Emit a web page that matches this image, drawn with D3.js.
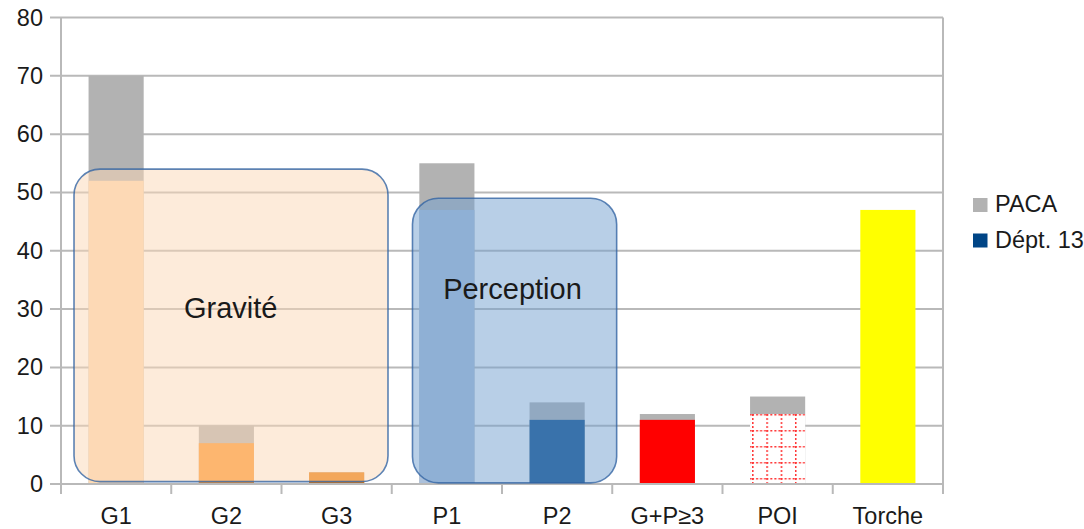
<!DOCTYPE html>
<html>
<head>
<meta charset="utf-8">
<script src="https://cdn.jsdelivr.net/npm/d3@7"></script>
<style>
  html, body { margin: 0; padding: 0; background: #fff; overflow: hidden; }
  svg { display: block; font-family: "Liberation Sans", Arial, sans-serif; }
</style>
</head>
<body>
<svg id="chart" width="1084" height="529"></svg>
<script>
// Categories and values of the two series
const categories = ["G1", "G2", "G3", "P1", "P2", "G+P≥3", "POI", "Torche"];
const pacaValues = [70, 10, 2, 55, 14, 12, 15, null];
const dept13Values = [52, 7, 2, 47, 11, 11, 12, 47];
const yTickValues = [0, 10, 20, 30, 40, 50, 60, 70, 80];
const seriesNames = ["PACA", "Dépt. 13"];

// Annotation groups (first/last category, label)
const groupLabels = ["Gravité", "Perception"];
const groupFirst = ["G1", "P1"];
const groupLast = ["G3", "P2"];

// Styling
const pacaColor = "#b2b2b2";
const deptColor = "#004586";
const deptBarFills = ["#fedbb4", "#ff9528", "#ea7700", "#acc1db", "#004586", "#ff0000", "url(#poiGrid)", "#ffff00"];
const gridColor = "#b9b9b9";
const textColor = "#1a1a1a";
const labelSize = 23.5;

const svg = d3.select("#chart");
const plot = { left: 61, right: 943, top: 17.5, bottom: 484 };

const x = d3.scaleBand()
  .domain(categories)
  .range([plot.left, plot.right])
  .paddingInner(0.5)
  .paddingOuter(0.25);

const y = d3.scaleLinear().domain([0, 80]).range([plot.bottom, plot.top]);

// Continuous category position (0 = left edge, n = right edge) for annotations
const xc = d3.scaleLinear().domain([0, categories.length]).range([plot.left, plot.right]);

// Pattern used by the POI bar: red dotted grid on white
const defs = svg.append("defs");
const pat = defs.append("pattern")
  .attr("id", "poiGrid")
  .attr("patternUnits", "userSpaceOnUse")
  .attr("x", x("POI") + 2)
  .attr("y", y(12))
  .attr("width", 14.3)
  .attr("height", 16);
pat.append("rect").attr("width", 14.3).attr("height", 16).attr("fill", "#fff");
pat.append("line").attr("x1", 0).attr("x2", 14.3).attr("y1", 0.75).attr("y2", 0.75)
  .attr("stroke", "#ff3030").attr("stroke-width", 1.5).attr("stroke-dasharray", "2,2");
pat.append("line").attr("x1", 0.75).attr("x2", 0.75).attr("y1", 0).attr("y2", 16)
  .attr("stroke", "#ff3030").attr("stroke-width", 1.5).attr("stroke-dasharray", "2,2");

// Horizontal gridlines
svg.append("g")
  .selectAll("line")
  .data(yTickValues)
  .join("line")
  .attr("x1", plot.left - 11)
  .attr("x2", plot.right)
  .attr("y1", d => y(d))
  .attr("y2", d => y(d))
  .attr("stroke", gridColor)
  .attr("stroke-width", 2);

// Y axis labels
const yAxis = d3.axisLeft(y).tickValues(yTickValues).tickSize(0).tickPadding(18);
const yg = svg.append("g").attr("transform", `translate(${plot.left},0)`).call(yAxis);
yg.select(".domain").remove();
yg.selectAll("text").attr("font-size", labelSize).attr("fill", textColor)
  .attr("font-family", "Liberation Sans, Arial, sans-serif");

// Vertical axis line and right border
svg.append("line")
  .attr("x1", plot.left).attr("x2", plot.left)
  .attr("y1", plot.top).attr("y2", plot.bottom + 10)
  .attr("stroke", gridColor).attr("stroke-width", 2);
svg.append("line")
  .attr("x1", plot.right).attr("x2", plot.right)
  .attr("y1", plot.top).attr("y2", plot.bottom + 10)
  .attr("stroke", gridColor).attr("stroke-width", 2);

// X axis ticks at category boundaries
svg.append("g")
  .selectAll("line")
  .data(d3.range(categories.length + 1))
  .join("line")
  .attr("x1", d => xc(d)).attr("x2", d => xc(d))
  .attr("y1", plot.bottom).attr("y2", plot.bottom + 10)
  .attr("stroke", gridColor).attr("stroke-width", 2);

// PACA bars (behind)
svg.append("g")
  .selectAll("rect")
  .data(categories.map((c, i) => ({ c, v: pacaValues[i] })).filter(d => d.v != null))
  .join("rect")
  .attr("x", d => x(d.c))
  .attr("width", x.bandwidth())
  .attr("y", d => y(d.v))
  .attr("height", d => y(0) - y(d.v))
  .attr("fill", pacaColor);

// Dépt. 13 bars (front)
svg.append("g")
  .selectAll("rect")
  .data(categories.map((c, i) => ({ c, v: dept13Values[i], fill: deptBarFills[i] })))
  .join("rect")
  .attr("x", d => x(d.c))
  .attr("width", x.bandwidth())
  .attr("y", d => y(d.v))
  .attr("height", d => y(0) - y(d.v))
  .attr("fill", d => d.fill);

// X axis baseline
svg.append("line")
  .attr("x1", plot.left).attr("x2", plot.right)
  .attr("y1", plot.bottom).attr("y2", plot.bottom)
  .attr("stroke", gridColor).attr("stroke-width", 2);

// X axis labels
svg.append("g")
  .selectAll("text")
  .data(categories)
  .join("text")
  .attr("x", d => x(d) + x.bandwidth() / 2)
  .attr("y", 524)
  .attr("text-anchor", "middle")
  .attr("font-size", labelSize)
  .attr("fill", textColor)
  .text(d => d);

// Rounded translucent group boxes
const boxStyle = [
  { fill: "#fcd7b6", l: 0.118, r: 2.966, top: 54, bottom: 0.4, tx: 1.54, ty: 28.5 },
  { fill: "#729fcf", l: 3.188, r: 5.04, top: 49, bottom: 0.2, tx: 4.095, ty: 31.7 }
];
const boxes = svg.append("g");
groupLabels.forEach((label, i) => {
  const s = boxStyle[i];
  boxes.append("rect")
    .attr("x", xc(s.l))
    .attr("y", y(s.top))
    .attr("width", xc(s.r) - xc(s.l))
    .attr("height", y(s.bottom) - y(s.top))
    .attr("rx", 26).attr("ry", 26)
    .attr("fill", s.fill)
    .attr("fill-opacity", 0.5)
    .attr("stroke", "#3465a4")
    .attr("stroke-opacity", 0.8)
    .attr("stroke-width", 1.6);
  boxes.append("text")
    .attr("x", xc(s.tx))
    .attr("y", y(s.ty))
    .attr("text-anchor", "middle")
    .attr("font-size", 29)
    .attr("fill", textColor)
    .text(label);
});

// Legend
const legend = svg.append("g").attr("transform", "translate(973,198)");
const legendColors = [pacaColor, deptColor];
seriesNames.forEach((name, i) => {
  legend.append("rect")
    .attr("x", 0).attr("y", i * 35.5)
    .attr("width", 14.5).attr("height", 14)
    .attr("fill", legendColors[i]);
  legend.append("text")
    .attr("x", 22).attr("y", i * 35.5 + 14)
    .attr("font-size", labelSize)
    .attr("fill", textColor)
    .text(name);
});
</script>
</body>
</html>
